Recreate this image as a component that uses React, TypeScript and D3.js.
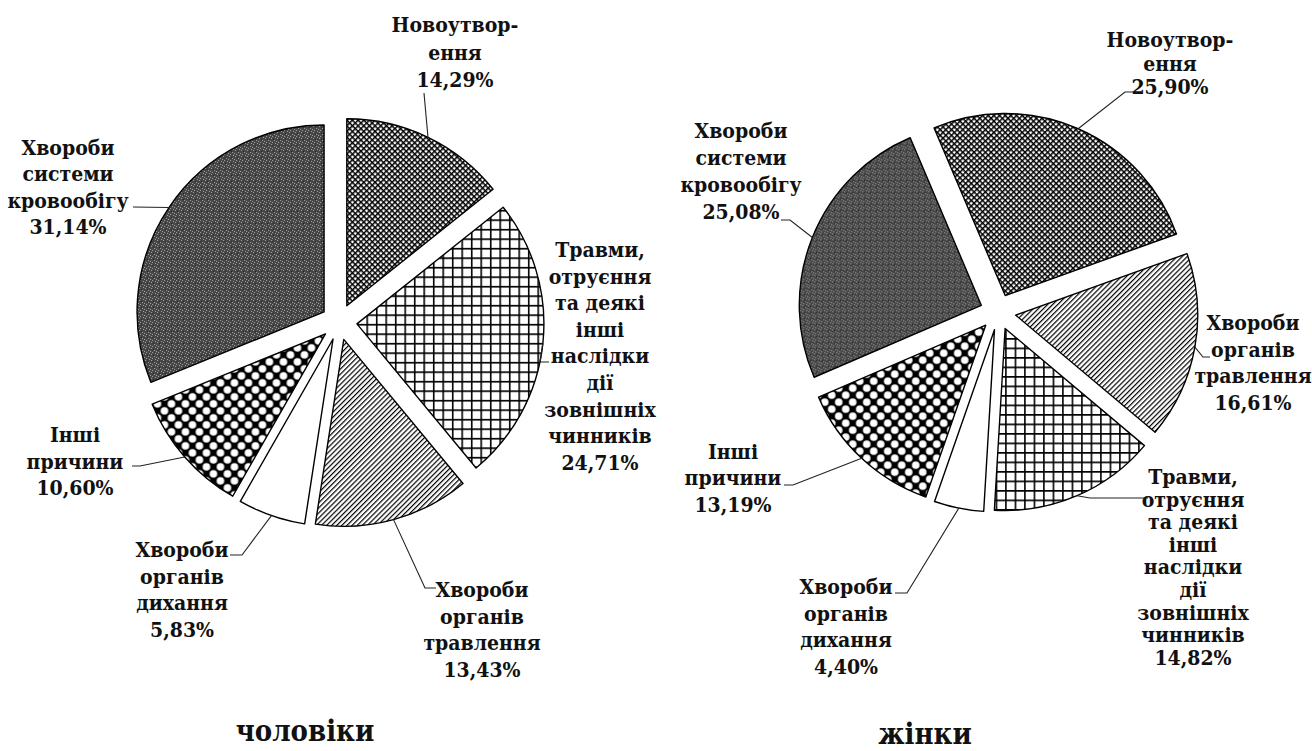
import React from "react";
import * as d3 from "d3";

// ---- data ----
const MEN_KEYS = ["neo", "inj", "dig", "resp", "other", "circ"];
const MEN_VALUES = [14.29, 24.71, 13.43, 5.83, 10.6, 31.14];
const WOMEN_KEYS = ["neo", "dig", "inj", "resp", "other", "circ"];
const WOMEN_VALUES = [25.9, 16.61, 14.82, 4.4, 13.19, 25.08];
const CATEGORY_LINES: Record<string, string[]> = {
  neo: ["Новоутвор-", "ення"],
  inj: ["Травми,", "отруєння", "та деякі", "інші", "наслідки", "дії", "зовнішніх", "чинників"],
  dig: ["Хвороби", "органів", "травлення"],
  resp: ["Хвороби", "органів", "дихання"],
  other: ["Інші", "причини"],
  circ: ["Хвороби", "системи", "кровообігу"],
};
const CHART_TITLES = ["чоловіки", "жінки"];

// ---- styles / layout ----
const FILLS: Record<string, string> = {
  neo: "url(#p-neo)",
  inj: "url(#p-grid)",
  dig: "url(#p-diag)",
  resp: "#ffffff",
  other: "url(#p-dots)",
  circ: "url(#p-grain)",
};
const FONT = "'DejaVu Serif Condensed', 'DejaVu Serif', serif";

type LabelLayout = { x: number; y: number; dy: number; leader: [number, number][] };
type ChartLayout = {
  cx: number; cy: number; r: number; explode: number; startDeg: number;
  title: { x: number; y: number };
  labels: Record<string, LabelLayout>;
};

const LEFT: ChartLayout = {
  cx: 339, cy: 322, r: 187, explode: 18, startDeg: 0,
  title: { x: 305, y: 741 },
  labels: {
    neo: { x: 455, y: 32, dy: 27.5, leader: [[424, 93]] },
    inj: { x: 600, y: 257, dy: 26.6, leader: [[540, 362], [549, 362]] },
    dig: { x: 482, y: 597, dy: 26.5, leader: [[425, 588], [436, 588]] },
    resp: { x: 182, y: 557, dy: 26.7, leader: [[242, 555], [230, 555]] },
    other: { x: 75, y: 442, dy: 26.5, leader: [[140, 466], [132, 466]] },
    circ: { x: 68, y: 155, dy: 26.3, leader: [[133, 207]] },
  },
};
const RIGHT: ChartLayout = {
  cx: 998, cy: 312, r: 182, explode: 18, startDeg: -23,
  title: { x: 925, y: 744 },
  labels: {
    neo: { x: 1170, y: 47, dy: 23.5, leader: [[1125, 92], [1133, 92]] },
    dig: { x: 1253, y: 330, dy: 26.7, leader: [[1203, 357], [1210, 357]] },
    inj: { x: 1193, y: 484, dy: 22.6, leader: [[1090, 498], [1148, 498]] },
    resp: { x: 846, y: 594, dy: 26.5, leader: [[907, 593], [895, 593]] },
    other: { x: 733, y: 459, dy: 26.3, leader: [[793, 485], [784, 485]] },
    circ: { x: 741, y: 138, dy: 27, leader: [[790, 220], [781, 220]] },
  },
};

const fmt = (v: number) => d3.format(".2f")(v).replace(".", ",") + "%";

function Pie({ keys, values, layout, title }: { keys: string[]; values: number[]; layout: ChartLayout; title: string }) {
  const start = (layout.startDeg * Math.PI) / 180;
  const pie = d3.pie<number>().sort(null).value((d) => d).startAngle(start).endAngle(start + 2 * Math.PI);
  const arcs = pie(values);
  const arc = d3.arc<d3.PieArcDatum<number>>().innerRadius(0).outerRadius(layout.r);
  return (
    <g>
      {arcs.map((a, i) => {
        const key = keys[i];
        const mid = (a.startAngle + a.endAngle) / 2;
        const dx = Math.sin(mid) * layout.explode;
        const dy = -Math.cos(mid) * layout.explode;
        const tx = layout.cx + dx;
        const ty = layout.cy + dy;
        const ax = tx + Math.sin(mid) * layout.r;
        const ay = ty - Math.cos(mid) * layout.r;
        const lab = layout.labels[key];
        const pts: [number, number][] = [[ax, ay], ...lab.leader];
        const lines = [...CATEGORY_LINES[key], fmt(values[i])];
        return (
          <g key={key}>
            <path
              d={arc(a) || ""}
              transform={`translate(${tx},${ty})`}
              fill={FILLS[key]}
              stroke="#000"
              strokeWidth={1.4}
              strokeLinejoin="round"
            />
            <path d={d3.line()(pts) || ""} fill="none" stroke="#222" strokeWidth={1.1} />
            <text textAnchor="middle" style={{ fontFamily: FONT, fontWeight: 700, fontSize: "21px", fontStretch: "condensed" }} fill="#111">
              {lines.map((l, j) => (
                <tspan key={j} x={lab.x} y={lab.y + j * lab.dy}>{l}</tspan>
              ))}
            </text>
          </g>
        );
      })}
      <text x={layout.title.x} y={layout.title.y} textAnchor="middle" style={{ fontFamily: FONT, fontWeight: 700, fontSize: "29px", fontStretch: "condensed" }} fill="#111">
        {title}
      </text>
    </g>
  );
}

export default function App() {
  return (
    <svg width={1312} height={751} style={{ position: "absolute", left: 0, top: 0, display: "block", background: "#fff" }}>
      <defs>
        <pattern id="p-neo" width={4} height={4} patternUnits="userSpaceOnUse" patternTransform="rotate(45)">
          <rect width={4} height={4} fill="#fff" />
          <path d="M0 0.75H4M0.75 0V4" stroke="#000" strokeWidth={1.5} />
        </pattern>
        <pattern id="p-grid" width={9.5} height={9.5} patternUnits="userSpaceOnUse">
          <rect width={9.5} height={9.5} fill="#fff" />
          <path d="M0 0.8H9.5M0.8 0V9.5" stroke="#000" strokeWidth={1.6} />
        </pattern>
        <pattern id="p-diag" width={3.6} height={3.6} patternUnits="userSpaceOnUse" patternTransform="rotate(45)">
          <rect width={3.6} height={3.6} fill="#fff" />
          <line x1={0.6} y1={0} x2={0.6} y2={3.6} stroke="#000" strokeWidth={1.2} />
        </pattern>
        <pattern id="p-dots" width={14} height={14} patternUnits="userSpaceOnUse">
          <rect width={14} height={14} fill="#000" />
          <circle cx={0} cy={0} r={3.8} fill="#fff" />
          <circle cx={14} cy={0} r={3.8} fill="#fff" />
          <circle cx={0} cy={14} r={3.8} fill="#fff" />
          <circle cx={14} cy={14} r={3.8} fill="#fff" />
          <circle cx={7} cy={7} r={3.8} fill="#fff" />
        </pattern>
        <pattern id="p-grain" width={6} height={6} patternUnits="userSpaceOnUse">
          <rect width={6} height={6} fill="#454545" />
          <rect x={1} y={0} width={1} height={1} fill="#a8a8a8" />
          <rect x={4} y={2} width={1} height={1} fill="#a8a8a8" />
          <rect x={2} y={4} width={1} height={1} fill="#a8a8a8" />
          <rect x={5} y={5} width={1} height={1} fill="#a8a8a8" />
          <rect x={0} y={3} width={1} height={1} fill="#a8a8a8" />
          <rect x={3} y={1} width={1} height={1} fill="#262626" />
        </pattern>
      </defs>
      <Pie keys={MEN_KEYS} values={MEN_VALUES} layout={LEFT} title={CHART_TITLES[0]} />
      <Pie keys={WOMEN_KEYS} values={WOMEN_VALUES} layout={RIGHT} title={CHART_TITLES[1]} />
    </svg>
  );
}
